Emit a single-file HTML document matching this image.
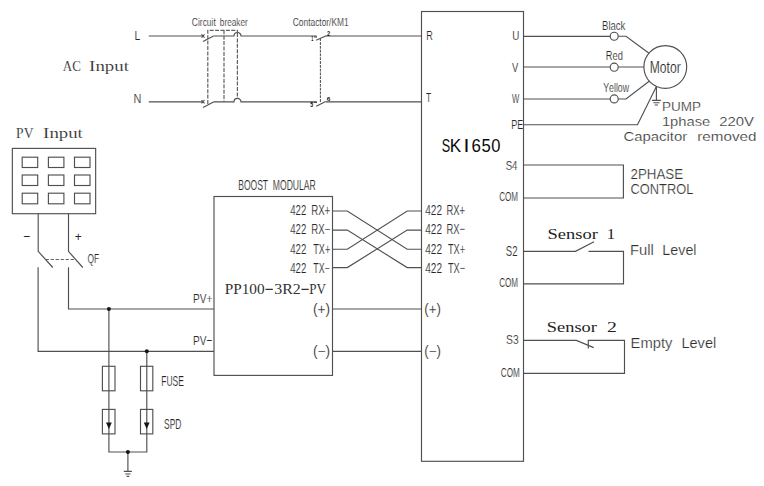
<!DOCTYPE html>
<html><head><meta charset="utf-8">
<style>
html,body{margin:0;padding:0;background:#fff;overflow:hidden;}
svg{display:block;}
text{white-space:pre;font-kerning:none;font-variant-ligatures:none;}
</style></head><body>
<svg width="764" height="486" viewBox="0 0 764 486">
<g fill="none" stroke="#505050" stroke-width="1.15">
<path d="M148.8 36H203M213.5 36H234A3.5 3.5 0 0 1 241 36H316.8M326 36H421.5"/>
<path d="M148.8 101.8H203M214 101.8H234A3.5 3.5 0 0 1 241 101.8H316.8M325.7 101.8H421.5"/>
<path d="M201.5 34.3L204.5 37.6M204.5 34.3L201.5 37.6M203 41.5L213.5 36"/>
<path d="M201.5 100.1L204.5 103.4M204.5 100.1L201.5 103.4M203 107.6L214 101.8"/>
<path d="M316.2 40.2L326.2 35.7M316.2 106.2L325.7 101.5"/>
<path d="M314 36.8H317M314 102.3H317"/>
</g>
<g fill="none" stroke="#606060" stroke-width="1.2" stroke-dasharray="4 1.4">
<path d="M207.8 104V30.3H237.4V33M224 30.3V101.8M237.4 33V99"/>
</g>
<g fill="none" stroke="#505050" stroke-width="1.05" stroke-dasharray="2.8 1">
<path d="M320.4 38.3V102.6"/>
</g>
<g fill="none" stroke="#505050" stroke-width="1.15">
<rect x="421.5" y="11.5" width="102" height="449.8"/>
<path d="M523.5 36.3H610.2M618.2 36.2H626L649 53.2"/>
<path d="M523.5 67H610.2M618.2 67H644"/>
<path d="M523.5 99H610.2M618.2 99H626L649.5 81"/>
<path d="M523.5 124.7H637.5L656.4 86.4"/>
<circle cx="614.2" cy="36.2" r="4"/>
<circle cx="614.2" cy="67.2" r="4"/>
<circle cx="614.2" cy="98.9" r="4"/>
<circle cx="665.3" cy="67" r="21.4"/>
<path d="M656.4 86.4V100.4M652 100.4H660.9M653.4 102.7H659.6M654.7 105H658"/>
<path d="M523.5 165H623.4V198H523.5"/>
<path d="M523.5 251.3H575.5L594 241.7M588.5 251.3H623.5V283.9H523.5"/>
<path d="M523.5 340.4H576.4L593.7 347.6M588.3 348.4V340.4H624.5V373.3H523.5"/>
<rect x="214" y="196.5" width="118.5" height="178.9"/>
<path d="M332.6 211H347.3L407.2 249.2H421.5M332.6 230.1H347.3L407.2 267.6H421.5M332.6 249.2H347.3L407.2 211H421.5M332.6 267.6H347.3L407.2 230.1H421.5"/>
<path d="M332.5 309H421.5M332.5 351.3H421.5"/>
<rect x="12.35" y="148.4" width="83.3" height="65.3"/>
<rect x="22.2" y="157.2" width="15.5" height="10.3"/>
<rect x="48.4" y="157.2" width="15.5" height="10.3"/>
<rect x="74.5" y="157.2" width="15.5" height="10.3"/>
<rect x="22.2" y="175" width="15.5" height="10.5"/>
<rect x="48.4" y="175" width="15.5" height="10.5"/>
<rect x="74.5" y="175" width="15.5" height="10.5"/>
<rect x="22.2" y="193.2" width="15.5" height="10.6"/>
<rect x="48.4" y="193.2" width="15.5" height="10.6"/>
<rect x="74.5" y="193.2" width="15.5" height="10.6"/>
<path d="M38.2 213.6V251.4L52.8 267.5M68.5 213.6V251.4L82.8 267.5"/>
<path d="M38.1 267.3V351.3H214M68.5 267.3V309H214"/>
<path d="M108.9 309V452H146.8V351.3"/>
<rect x="102.4" y="366.3" width="12.6" height="24.5"/><rect x="140.5" y="366.3" width="12.3" height="24.5"/>
<rect x="102.4" y="409.4" width="12.6" height="24.5"/><rect x="140.5" y="409.4" width="12.3" height="24.5"/>
<path d="M127.9 452V471.4M123.8 471.4H131.9M125.2 474H130.6M126.6 476.4H129.2"/>
</g>
<g fill="none" stroke="#666" stroke-width="1.15" stroke-dasharray="3.3 1.7"><path d="M45.6 259.5H75.6"/></g>
<g fill="#151515">
<circle cx="108.9" cy="309" r="2"/><circle cx="146.8" cy="351.3" r="2"/><circle cx="127.9" cy="452" r="2"/>
<path d="M106 422.6H111.8L108.9 429Z"/><path d="M143.8 422.6H149.6L146.7 429Z"/>
</g>
<text transform="matrix(0.7946 0 0 1 191.87 25.7)" font-family="Liberation Sans" font-size="10.61" fill="#262626" stroke="#fff" stroke-width="0.18">Circuit</text>
<text transform="matrix(0.7746 0 0 1 219.87 25.7)" font-family="Liberation Sans" font-size="10.61" fill="#262626" stroke="#fff" stroke-width="0.18">breaker</text>
<text transform="matrix(0.7693 0 0 1 292.77 25.7)" font-family="Liberation Sans" font-size="10.90" fill="#262626" stroke="#fff" stroke-width="0.18">Contactor/KM1</text>
<text transform="matrix(0.8156 0 0 1 134.54 40.3)" font-family="Liberation Sans" font-size="12.79" fill="#262626" stroke="#fff" stroke-width="0.18">L</text>
<text transform="matrix(0.7993 0 0 1 133.50 102.7)" font-family="Liberation Sans" font-size="13.66" fill="#262626" stroke="#fff" stroke-width="0.18">N</text>
<text transform="matrix(0.6952 0 0 1 426.15 40.1)" font-family="Liberation Sans" font-size="13.08" fill="#262626" stroke="#fff" stroke-width="0.18">R</text>
<text transform="matrix(0.6637 0 0 1 426.01 102)" font-family="Liberation Sans" font-size="12.79" fill="#262626" stroke="#fff" stroke-width="0.18">T</text>
<text transform="matrix(0.7374 0 0 1 512.14 40.4)" font-family="Liberation Sans" font-size="13.37" fill="#262626" stroke="#fff" stroke-width="0.18">U</text>
<text transform="matrix(0.7044 0 0 1 512.06 71.8)" font-family="Liberation Sans" font-size="13.37" fill="#262626" stroke="#fff" stroke-width="0.18">V</text>
<text transform="matrix(0.5690 0 0 1 512.07 102.5)" font-family="Liberation Sans" font-size="13.52" fill="#262626" stroke="#fff" stroke-width="0.18">W</text>
<text transform="matrix(0.6816 0 0 1 511.36 128.9)" font-family="Liberation Sans" font-size="13.23" fill="#262626" stroke="#fff" stroke-width="0.18">PE</text>
<text transform="matrix(0.8018 0 0 1 602.02 29.5)" font-family="Liberation Sans" font-size="11.92" fill="#262626" stroke="#fff" stroke-width="0.18">Black</text>
<text transform="matrix(0.7853 0 0 1 605.73 60.4)" font-family="Liberation Sans" font-size="11.92" fill="#262626" stroke="#fff" stroke-width="0.18">Red</text>
<text transform="matrix(0.7280 0 0 1 603.21 92.3)" font-family="Liberation Sans" font-size="12.06" fill="#262626" stroke="#fff" stroke-width="0.18">Yellow</text>
<text transform="matrix(0.7654 0 0 1 649.71 72.8)" font-family="Liberation Sans" font-size="15.84" fill="#262626" stroke="#fff" stroke-width="0.18">Motor</text>
<text transform="matrix(0.7163 0 0 1 505.67 169.9)" font-family="Liberation Sans" font-size="13.37" fill="#262626" stroke="#fff" stroke-width="0.18">S4</text>
<text transform="matrix(0.5985 0 0 1 499.19 200.8)" font-family="Liberation Sans" font-size="13.52" fill="#262626" stroke="#fff" stroke-width="0.18">COM</text>
<text transform="matrix(0.6865 0 0 1 505.87 256.3)" font-family="Liberation Sans" font-size="13.95" fill="#262626" stroke="#fff" stroke-width="0.18">S2</text>
<text transform="matrix(0.5985 0 0 1 499.19 287.3)" font-family="Liberation Sans" font-size="13.52" fill="#262626" stroke="#fff" stroke-width="0.18">COM</text>
<text transform="matrix(0.7717 0 0 1 506.03 343.8)" font-family="Liberation Sans" font-size="13.37" fill="#262626" stroke="#fff" stroke-width="0.18">S3</text>
<text transform="matrix(0.6019 0 0 1 500.79 376.9)" font-family="Liberation Sans" font-size="13.52" fill="#262626" stroke="#fff" stroke-width="0.18">COM</text>
<text transform="matrix(0.6918 0 0 1 290.18 215)" font-family="Liberation Sans" font-size="13.95" fill="#262626" stroke="#fff" stroke-width="0.18">422</text>
<text transform="matrix(0.6926 0 0 1 311.21 215)" font-family="Liberation Sans" font-size="13.95" fill="#262626" stroke="#fff" stroke-width="0.18">RX+</text>
<text transform="matrix(0.6918 0 0 1 290.18 234.3)" font-family="Liberation Sans" font-size="13.95" fill="#262626" stroke="#fff" stroke-width="0.18">422</text>
<text transform="matrix(0.6924 0 0 1 311.21 234.3)" font-family="Liberation Sans" font-size="13.95" fill="#262626" stroke="#fff" stroke-width="0.18">RX−</text>
<text transform="matrix(0.6918 0 0 1 290.18 254)" font-family="Liberation Sans" font-size="13.95" fill="#262626" stroke="#fff" stroke-width="0.18">422</text>
<text transform="matrix(0.6526 0 0 1 313.30 254)" font-family="Liberation Sans" font-size="13.95" fill="#262626" stroke="#fff" stroke-width="0.18">TX+</text>
<text transform="matrix(0.6991 0 0 1 290.18 272.8)" font-family="Liberation Sans" font-size="13.81" fill="#262626" stroke="#fff" stroke-width="0.18">422</text>
<text transform="matrix(0.6390 0 0 1 313.30 272.8)" font-family="Liberation Sans" font-size="13.81" fill="#262626" stroke="#fff" stroke-width="0.18">TX−</text>
<text transform="matrix(0.7233 0 0 1 425.17 215)" font-family="Liberation Sans" font-size="13.95" fill="#262626" stroke="#fff" stroke-width="0.18">422</text>
<text transform="matrix(0.6732 0 0 1 446.53 215)" font-family="Liberation Sans" font-size="13.95" fill="#262626" stroke="#fff" stroke-width="0.18">RX+</text>
<text transform="matrix(0.6875 0 0 1 425.17 234)" font-family="Liberation Sans" font-size="14.68" fill="#262626" stroke="#fff" stroke-width="0.18">422</text>
<text transform="matrix(0.6397 0 0 1 446.53 234)" font-family="Liberation Sans" font-size="14.68" fill="#262626" stroke="#fff" stroke-width="0.18">RX−</text>
<text transform="matrix(0.7309 0 0 1 425.17 254.3)" font-family="Liberation Sans" font-size="13.81" fill="#262626" stroke="#fff" stroke-width="0.18">422</text>
<text transform="matrix(0.6675 0 0 1 447.89 254.3)" font-family="Liberation Sans" font-size="13.81" fill="#262626" stroke="#fff" stroke-width="0.18">TX+</text>
<text transform="matrix(0.6944 0 0 1 425.17 272.5)" font-family="Liberation Sans" font-size="14.54" fill="#262626" stroke="#fff" stroke-width="0.18">422</text>
<text transform="matrix(0.6340 0 0 1 447.89 272.5)" font-family="Liberation Sans" font-size="14.54" fill="#262626" stroke="#fff" stroke-width="0.18">TX−</text>
<text transform="matrix(0.6185 0 0 1 238.20 190.4)" font-family="Liberation Sans" font-size="13.81" fill="#262626" stroke="#fff" stroke-width="0.18">BOOST</text>
<text transform="matrix(0.6228 0 0 1 272.79 190.4)" font-family="Liberation Sans" font-size="13.81" fill="#262626" stroke="#fff" stroke-width="0.18">MODULAR</text>
<text transform="matrix(0.7453 0 0 1 193.07 302.7)" font-family="Liberation Sans" font-size="13.52" fill="#262626" stroke="#fff" stroke-width="0.18">PV+</text>
<text transform="matrix(0.7461 0 0 1 193.07 345.1)" font-family="Liberation Sans" font-size="13.50" fill="#262626" stroke="#fff" stroke-width="0.18">PV−</text>
<text transform="matrix(0.9769 0 0 1 313.05 313.5)" font-family="Liberation Sans" font-size="14.00" fill="#262626" stroke="#fff" stroke-width="0.18">(+)</text>
<text transform="matrix(0.9769 0 0 1 313.05 356.2)" font-family="Liberation Sans" font-size="14.00" fill="#262626" stroke="#fff" stroke-width="0.18">(−)</text>
<text transform="matrix(0.9516 0 0 1 424.27 313.5)" font-family="Liberation Sans" font-size="14.00" fill="#262626" stroke="#fff" stroke-width="0.18">(+)</text>
<text transform="matrix(0.9516 0 0 1 424.27 356.2)" font-family="Liberation Sans" font-size="14.00" fill="#262626" stroke="#fff" stroke-width="0.18">(−)</text>
<text transform="matrix(0.9341 0 0 1 23.30 240.9)" font-family="Liberation Sans" font-size="13.00" fill="#262626">−</text>
<text transform="matrix(0.9183 0 0 1 74.82 240.6)" font-family="Liberation Sans" font-size="13.00" fill="#262626">+</text>
<text transform="matrix(0.6333 0 0 1 87.50 262.8)" font-family="Liberation Sans" font-size="13.23" fill="#262626" stroke="#fff" stroke-width="0.18">QF</text>
<text transform="matrix(0.5788 0 0 1 161.30 386)" font-family="Liberation Sans" font-size="14.68" fill="#262626" stroke="#fff" stroke-width="0.18">FUSE</text>
<text transform="matrix(0.5649 0 0 1 164.02 428.5)" font-family="Liberation Sans" font-size="14.97" fill="#262626" stroke="#fff" stroke-width="0.18">SPD</text>
<text transform="matrix(0.5803 0 0 1 311.32 40.7)" font-family="Liberation Sans" font-size="6.40" fill="#111" font-weight="bold">1</text>
<text transform="matrix(0.8354 0 0 1 326.91 35.5)" font-family="Liberation Sans" font-size="6.83" fill="#111" font-weight="bold">2</text>
<text transform="matrix(0.7558 0 0 1 310.29 106.8)" font-family="Liberation Sans" font-size="6.98" fill="#111" font-weight="bold">5</text>
<text transform="matrix(1.0650 0 0 1 326.67 101)" font-family="Liberation Sans" font-size="6.10" fill="#111" font-weight="bold">6</text>
<text transform="matrix(1.0440 0 0 1 661.89 110.5)" font-family="Liberation Sans" font-size="12.94" fill="#2e2e2e" stroke="#fff" stroke-width="0.22">PUMP</text>
<text transform="matrix(1.1399 0 0 1 661.88 126.1)" font-family="Liberation Sans" font-size="12.94" fill="#2e2e2e" stroke="#fff" stroke-width="0.22">1phase</text>
<text transform="matrix(1.1524 0 0 1 719.25 126.1)" font-family="Liberation Sans" font-size="12.94" fill="#2e2e2e" stroke="#fff" stroke-width="0.22">220V</text>
<text transform="matrix(1.1524 0 0 1 623.44 141.2)" font-family="Liberation Sans" font-size="12.94" fill="#2e2e2e" stroke="#fff" stroke-width="0.22">Capacitor</text>
<text transform="matrix(1.1703 0 0 1 697.29 141.2)" font-family="Liberation Sans" font-size="13.00" fill="#2e2e2e" stroke="#fff" stroke-width="0.22">removed</text>
<text transform="matrix(0.9365 0 0 1 630.53 179.1)" font-family="Liberation Sans" font-size="14.24" fill="#2e2e2e" stroke="#fff" stroke-width="0.22">2PHASE</text>
<text transform="matrix(0.8923 0 0 1 630.55 194.2)" font-family="Liberation Sans" font-size="14.39" fill="#2e2e2e" stroke="#fff" stroke-width="0.22">CONTROL</text>
<text transform="matrix(1.0162 0 0 1 629.99 255)" font-family="Liberation Sans" font-size="14.54" fill="#2e2e2e" stroke="#fff" stroke-width="0.22">Full</text>
<text transform="matrix(0.9852 0 0 1 662.33 255)" font-family="Liberation Sans" font-size="14.54" fill="#2e2e2e" stroke="#fff" stroke-width="0.22">Level</text>
<text transform="matrix(0.9958 0 0 1 630.59 347.9)" font-family="Liberation Sans" font-size="14.83" fill="#2e2e2e" stroke="#fff" stroke-width="0.22">Empty</text>
<text transform="matrix(0.9839 0 0 1 681.40 347.9)" font-family="Liberation Sans" font-size="14.83" fill="#2e2e2e" stroke="#fff" stroke-width="0.22">Level</text>
<text transform="matrix(0.8338 0 0 1 62.77 70.7)" font-family="Liberation Serif" font-size="15.58" fill="#333" stroke="#fff" stroke-width="0.1">AC</text>
<text transform="matrix(1.2101 0 0 1 89.12 70.7)" font-family="Liberation Serif" font-size="15.58" fill="#333" stroke="#fff" stroke-width="0.1">Input</text>
<text transform="matrix(0.9065 0 0 1 16.11 137.6)" font-family="Liberation Serif" font-size="14.97" fill="#333" stroke="#fff" stroke-width="0.1">PV</text>
<text transform="matrix(1.2563 0 0 1 43.12 137.6)" font-family="Liberation Serif" font-size="14.97" fill="#333" stroke="#fff" stroke-width="0.1">Input</text>
<text transform="matrix(0.9810 0 0 1 224.66 294.3)" font-family="Liberation Serif" font-size="15.58" fill="#333">PP100</text>
<text transform="matrix(1.0220 0 0 1 274.24 294.3)" font-family="Liberation Serif" font-size="15.58" fill="#333">3R2</text>
<text transform="matrix(0.8398 0 0 1 309.32 294.3)" font-family="Liberation Serif" font-size="15.58" fill="#333">PV</text>
<path d="M265.5 289.4H272.8M301.4 289.4H308.7" stroke="#333" stroke-width="1.1"/>
<text transform="matrix(1.2099 0 0 1 547.56 238.8)" font-family="Liberation Serif" font-size="15.27" fill="#222">Sensor</text>
<text transform="matrix(1.0974 0 0 1 606.83 238.8)" font-family="Liberation Serif" font-size="15.27" fill="#222">1</text>
<text transform="matrix(1.2049 0 0 1 546.87 332)" font-family="Liberation Serif" font-size="15.27" fill="#222">Sensor</text>
<text transform="matrix(1.2904 0 0 1 606.93 332)" font-family="Liberation Serif" font-size="15.27" fill="#222">2</text>
<text transform="matrix(0.7151 0 0 1 441.82 151.6)" font-family="Liberation Sans" font-size="17.73" fill="#0a0a0a">S</text>
<text transform="matrix(0.9633 0 0 1 449.80 151.6)" font-family="Liberation Sans" font-size="17.73" fill="#0a0a0a">K</text>
<text transform="matrix(1.2093 0 0 1 463.42 151.6)" font-family="Liberation Sans" font-size="17.73" fill="#0a0a0a">I</text>
<text transform="matrix(0.9533 0 0 1 471.44 151.6)" font-family="Liberation Sans" font-size="17.73" fill="#0a0a0a">6</text>
<text transform="matrix(0.9396 0 0 1 481.43 151.6)" font-family="Liberation Sans" font-size="17.73" fill="#0a0a0a">5</text>
<text transform="matrix(0.9320 0 0 1 491.25 151.6)" font-family="Liberation Sans" font-size="17.73" fill="#0a0a0a">0</text>
</svg>
</body></html>
